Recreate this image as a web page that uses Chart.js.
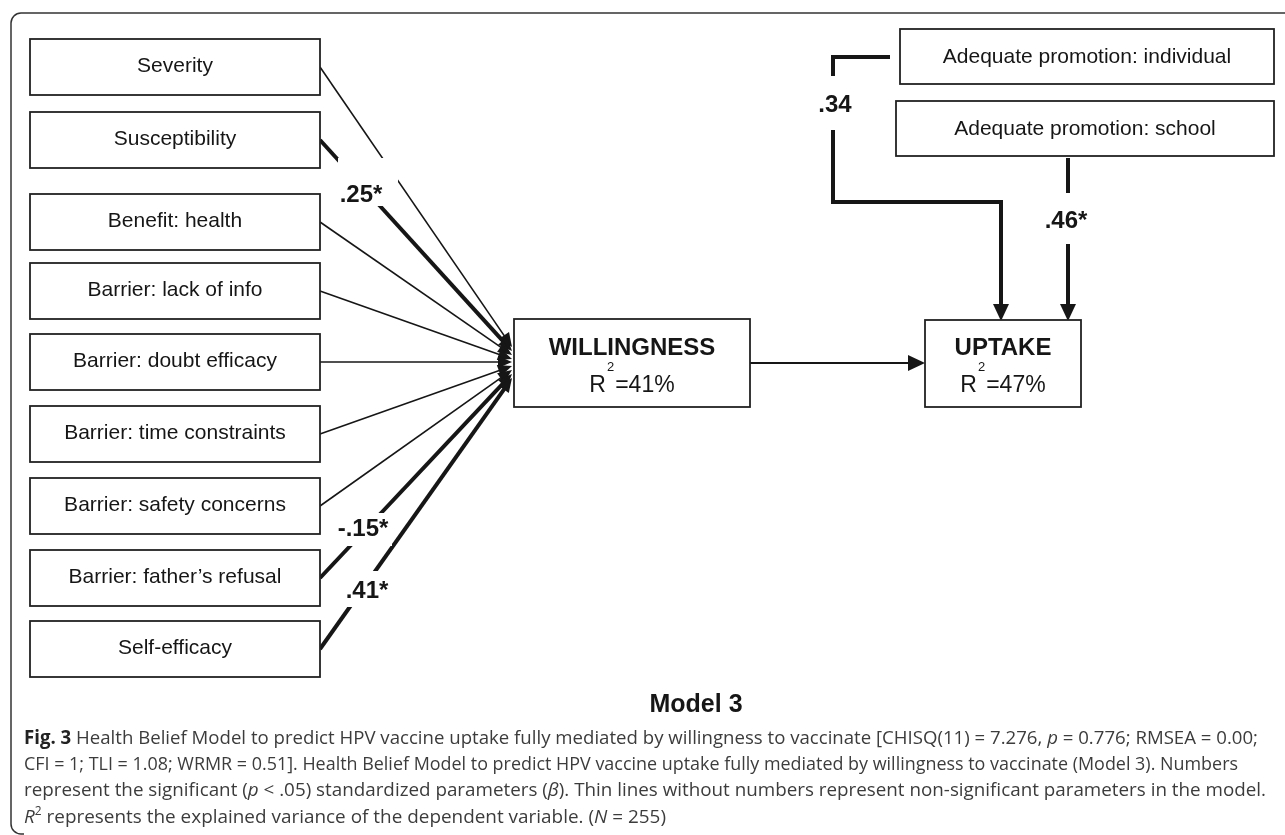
<!DOCTYPE html>
<html>
<head>
<meta charset="utf-8">
<script src="https://cdn.jsdelivr.net/npm/chart.js@4.4.1/dist/chart.umd.min.js"></script>
<style>
  html, body { margin: 0; padding: 0; background: #fff; }
  canvas { display: block; }
</style>
</head>
<body>
<canvas id="c" width="1285" height="835"></canvas>
<script>
// Datos del modelo (coeficientes estandarizados)
const predictors = ['Severity', 'Susceptibility', 'Benefit: health', 'Barrier: lack of info',
  'Barrier: doubt efficacy', 'Barrier: time constraints', 'Barrier: safety concerns',
  'Barrier: father\u2019s refusal', 'Self-efficacy'];
const predictorBeta = [null, 0.25, null, null, null, null, null, -0.15, 0.41];
const predictorSig = [false, true, false, false, false, false, false, true, true];
const promotions = ['Adequate promotion: individual', 'Adequate promotion: school'];
const promotionBeta = [0.34, 0.46];
const promotionSig = [false, true];
const outcomes = ['WILLINGNESS', 'UPTAKE'];
const outcomeR2 = [41, 47];
const modelName = 'Model 3';

// Disposición (en unidades de los ejes ocultos)
const layout = {
  left: { x0: 30, x1: 320, tops: [39, 112, 194, 263, 334, 406, 478, 550, 621], h: 56 },
  tipX: 512,
  tipY: [347, 351, 355, 359, 362, 366, 370, 374, 378],
  outcomeBox: [[514, 319, 750, 407], [925, 320, 1081, 407]],
  promoBox: [[900, 29, 1274, 84], [896, 101, 1274, 156]],
  predLabel: { 1: [361, 202, 338, 158, 398, 206], 7: [363, 536, 334, 513, 392, 546], 8: [367, 598, 342, 571, 392, 607] },
  promoLabel: [[835, 112, 812, 76, 858, 130], [1066, 228, 1038, 193, 1094, 244]],
  promoPath: [[[890, 57], [833, 57], [833, 202], [1001, 202], [1001, 321]], [[1068, 158], [1068, 321]]],
  mediator: [[750, 363], [925, 363]]
};

const fmtBeta = (v, sig) => v.toFixed(2).replace('0.', '.') + (sig ? '*' : '');
const HEAD = 17;

// acorta el último tramo para dejar sitio a la punta de flecha
function trimEnd(pts, len) {
  const out = pts.map(p => ({ x: p[0], y: p[1] }));
  const a = out[out.length - 2], b = out[out.length - 1];
  const d = Math.hypot(b.x - a.x, b.y - a.y);
  out[out.length - 1] = { x: b.x - (b.x - a.x) / d * len, y: b.y - (b.y - a.y) / d * len };
  return out;
}

const datasets = [];
const arrows = [];
predictors.forEach((p, i) => {
  const yc = layout.left.tops[i] + layout.left.h / 2;
  const pts = [[layout.left.x1, yc], [layout.tipX, layout.tipY[i]]];
  datasets.push({ data: trimEnd(pts, 12), borderWidth: predictorSig[i] ? 4 : 1.6 });
  arrows.push({ from: pts[0], to: pts[1], len: 14, half: 6 });
});
layout.promoPath.forEach(path => {
  datasets.push({ data: trimEnd(path, HEAD - 2), borderWidth: 4 });
  arrows.push({ from: path[path.length - 2], to: path[path.length - 1], len: HEAD, half: 8 });
});
datasets.push({ data: trimEnd(layout.mediator, HEAD - 2), borderWidth: 2 });
arrows.push({ from: layout.mediator[0], to: layout.mediator[1], len: HEAD, half: 8 });

const captionLines = [
  [['Fig. 3', 'b'], [' Health Belief Model to predict HPV vaccine uptake fully mediated by willingness to vaccinate [CHISQ(11) = 7.276, ', ''], ['p', 'i'], [' = 0.776; RMSEA = 0.00;', '']],
  [['CFI = 1; TLI = 1.08; WRMR = 0.51]. Health Belief Model to predict HPV vaccine uptake fully mediated by willingness to vaccinate (Model 3). Numbers', '']],
  [['represent the significant (', ''], ['p', 'i'], [' < .05) standardized parameters (', ''], ['\u03B2', 'i'], ['). Thin lines without numbers represent non-significant parameters in the model.', '']],
  [['R', 'i'], ['2', 's'], [' represents the explained variance of the dependent variable. (', ''], ['N', 'i'], [' = 255)', '']]
];
const captionEnds = [1258, 1238, 1266, 666];
const captionBase = [744, 770, 796, 823];

const diagram = {
  id: 'diagram',
  afterDatasetsDraw(chart) {
    const ctx = chart.ctx;
    const xs = chart.scales.x, ys = chart.scales.y;
    const X = v => xs.getPixelForValue(v), Y = v => ys.getPixelForValue(v);
    const INK = '#161616';
    ctx.save();

    // puntas de flecha
    ctx.fillStyle = INK;
    arrows.forEach(a => {
      const tx = X(a.to[0]), ty = Y(a.to[1]);
      const ang = Math.atan2(ty - Y(a.from[1]), tx - X(a.from[0]));
      ctx.beginPath();
      ctx.moveTo(tx, ty);
      ctx.lineTo(tx - a.len * Math.cos(ang) + a.half * Math.sin(ang), ty - a.len * Math.sin(ang) - a.half * Math.cos(ang));
      ctx.lineTo(tx - a.len * Math.cos(ang) - a.half * Math.sin(ang), ty - a.len * Math.sin(ang) + a.half * Math.cos(ang));
      ctx.closePath();
      ctx.fill();
    });

    // etiquetas de coeficientes con fondo blanco
    const drawBeta = (txt, pos) => {
      ctx.fillStyle = '#fff';
      ctx.fillRect(X(pos[2]), Y(pos[3]), X(pos[4]) - X(pos[2]), Y(pos[5]) - Y(pos[3]));
      ctx.fillStyle = INK;
      ctx.font = 'bold 24px "Liberation Sans", Arial, sans-serif';
      ctx.textAlign = 'center';
      ctx.textBaseline = 'alphabetic';
      ctx.fillText(txt, X(pos[0]), Y(pos[1]));
    };
    predictorBeta.forEach((b, i) => { if (b !== null) drawBeta(fmtBeta(b, predictorSig[i]), layout.predLabel[i]); });
    promotionBeta.forEach((b, i) => drawBeta(fmtBeta(b, promotionSig[i]), layout.promoLabel[i]));

    // cajas
    ctx.strokeStyle = '#222';
    ctx.lineWidth = 1.8;
    const box = (x0, y0, x1, y1) => {
      ctx.fillStyle = '#fff';
      ctx.fillRect(X(x0), Y(y0), X(x1) - X(x0), Y(y1) - Y(y0));
      ctx.strokeRect(X(x0), Y(y0), X(x1) - X(x0), Y(y1) - Y(y0));
    };
    ctx.textAlign = 'center';
    ctx.font = '21px "Liberation Sans", Arial, sans-serif';
    predictors.forEach((p, i) => {
      const t = layout.left.tops[i];
      box(layout.left.x0, t, layout.left.x1, t + layout.left.h);
      ctx.fillStyle = INK;
      ctx.fillText(p, X((layout.left.x0 + layout.left.x1) / 2), Y(t + layout.left.h / 2 + 5));
    });
    promotions.forEach((p, i) => {
      const b = layout.promoBox[i];
      box(b[0], b[1], b[2], b[3]);
      ctx.fillStyle = INK;
      ctx.fillText(p, X((b[0] + b[2]) / 2), Y((b[1] + b[3]) / 2 + 6));
    });
    outcomes.forEach((o, i) => {
      const b = layout.outcomeBox[i];
      box(b[0], b[1], b[2], b[3]);
      const cx = X((b[0] + b[2]) / 2);
      ctx.fillStyle = INK;
      ctx.textAlign = 'center';
      ctx.font = 'bold 24px "Liberation Sans", Arial, sans-serif';
      ctx.fillText(o, cx, Y(355));
      // R² = xx%
      const big = '23px "Liberation Sans", Arial, sans-serif';
      const small = '13px "Liberation Sans", Arial, sans-serif';
      const rest = '=' + outcomeR2[i] + '%';
      ctx.font = big; const wR = ctx.measureText('R').width; const wRest = ctx.measureText(rest).width;
      ctx.font = small; const w2 = ctx.measureText('2').width;
      let x = cx - (wR + w2 + 2 + wRest) / 2;
      ctx.textAlign = 'left';
      ctx.font = big; ctx.fillText('R', x, Y(392)); x += wR + 1;
      ctx.font = small; ctx.fillText('2', x, Y(371)); x += w2 + 1;
      ctx.font = big; ctx.fillText(rest, x, Y(392));
    });

    // marco redondeado
    ctx.strokeStyle = '#333';
    ctx.lineWidth = 1.5;
    ctx.beginPath();
    ctx.moveTo(X(1285), Y(13));
    ctx.lineTo(X(21), Y(13));
    ctx.arcTo(X(11), Y(13), X(11), Y(23), 10);
    ctx.lineTo(X(11), Y(824));
    ctx.arcTo(X(11), Y(834), X(21), Y(834), 10);
    ctx.lineTo(X(24), Y(834));
    ctx.stroke();

    // título del modelo
    ctx.fillStyle = INK;
    ctx.textAlign = 'center';
    ctx.font = 'bold 25px "Liberation Sans", Arial, sans-serif';
    ctx.fillText(modelName, X(696), Y(712));

    // pie de figura
    const fontFor = s => s === 'b' ? 'bold 19px "Open Sans", sans-serif'
      : s === 'i' ? 'italic 19px "Open Sans", sans-serif'
      : s === 's' ? '12px "Open Sans", sans-serif' : '19px "Open Sans", sans-serif';
    ctx.textAlign = 'left';
    captionLines.forEach((segs, li) => {
      let w = 0;
      segs.forEach(s => { ctx.font = fontFor(s[1]); w += ctx.measureText(s[0]).width; });
      const x0 = X(24), f = (X(captionEnds[li]) - x0) / w;
      ctx.save();
      ctx.translate(x0, Y(captionBase[li]));
      ctx.scale(f, 1);
      let x = 0;
      segs.forEach(s => {
        ctx.font = fontFor(s[1]);
        ctx.fillStyle = s[1] === 'b' ? '#222' : '#3c3c3c';
        ctx.fillText(s[0], x, s[1] === 's' ? -8 : 0);
        x += ctx.measureText(s[0]).width;
      });
      ctx.restore();
    });
    ctx.restore();
  }
};

new Chart(document.getElementById('c').getContext('2d'), {
  type: 'scatter',
  data: {
    datasets: datasets.map(d => Object.assign({
      showLine: true, pointRadius: 0, borderColor: '#161616', tension: 0,
      borderJoinStyle: 'miter', borderCapStyle: 'butt'
    }, d))
  },
  options: {
    responsive: false,
    animation: false,
    devicePixelRatio: 1,
    layout: { padding: 0 },
    scales: {
      x: { type: 'linear', min: 0, max: 1285, display: false },
      y: { type: 'linear', min: 0, max: 835, reverse: true, display: false }
    },
    plugins: { legend: { display: false }, tooltip: { enabled: false } }
  },
  plugins: [diagram]
});
</script>
</body>
</html>
